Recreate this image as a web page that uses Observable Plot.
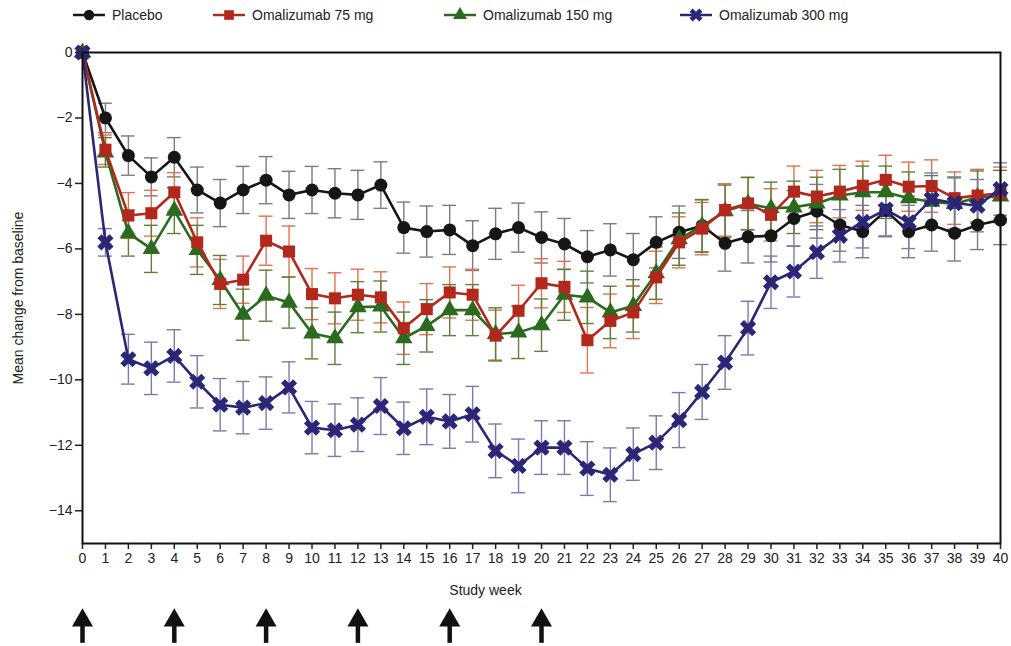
<!DOCTYPE html>
<html><head><meta charset="utf-8">
<script src="https://cdn.jsdelivr.net/npm/d3@7"></script>
<script src="https://cdn.jsdelivr.net/npm/@observablehq/plot@0.6"></script>
<style>
body{margin:0;background:#fff;font-family:"Liberation Sans",Arial,sans-serif;}
#legend{position:relative;height:30px;width:1011px;}
.item{position:absolute;top:0;height:30px;display:flex;align-items:center;font-size:14px;color:#222;white-space:nowrap;}
.item svg{margin-right:6px;}
</style></head><body>
<div id="legend"></div><div id="chart"></div>
<script>
const weeks = d3.range(0, 41);
const yTicks = [0, -2, -4, -6, -8, -10, -12, -14];
const xTicks = d3.range(0, 41);
const dosingWeeks = [0, 4, 8, 12, 16, 20];

const placebo = [0, -2.0, -3.15, -3.8, -3.2, -4.2, -4.6, -4.2, -3.9, -4.35, -4.2, -4.3, -4.35, -4.05, -5.35, -5.47, -5.42, -5.9, -5.54, -5.35, -5.65, -5.85, -6.24, -6.03, -6.33, -5.8, -5.49, -5.29, -5.83, -5.63, -5.6, -5.07, -4.85, -5.27, -5.47, -4.83, -5.47, -5.27, -5.52, -5.27, -5.12];
const placeboSE = [0, 0.45, 0.6, 0.58, 0.6, 0.7, 0.72, 0.72, 0.72, 0.72, 0.72, 0.75, 0.75, 0.71, 0.78, 0.78, 0.75, 0.76, 0.78, 0.75, 0.78, 0.78, 0.8, 0.8, 0.8, 0.78, 0.8, 0.8, 0.85, 0.8, 0.8, 0.85, 0.82, 0.8, 0.8, 0.8, 0.8, 0.8, 0.85, 0.75, 0.75];

const oma75 = [0, -2.97, -4.98, -4.91, -4.27, -5.8, -7.07, -6.94, -5.75, -6.08, -7.38, -7.51, -7.4, -7.48, -8.42, -7.84, -7.33, -7.4, -8.65, -7.89, -7.05, -7.16, -8.79, -8.2, -7.94, -6.87, -5.8, -5.38, -4.81, -4.61, -4.96, -4.25, -4.4, -4.25, -4.07, -3.89, -4.1, -4.08, -4.45, -4.37, -4.3];
const oma75SE = [0, 0.45, 0.7, 0.7, 0.6, 0.75, 0.75, 0.72, 0.75, 0.78, 0.78, 0.78, 0.78, 0.78, 0.8, 0.78, 0.78, 0.78, 0.78, 0.78, 0.75, 0.78, 1.0, 0.82, 0.8, 0.8, 0.78, 0.8, 0.8, 0.8, 0.8, 0.78, 0.8, 0.8, 0.75, 0.75, 0.75, 0.8, 0.8, 0.8, 0.8];

const oma150 = [0, -3.05, -5.52, -6.0, -4.83, -6.03, -6.95, -8.01, -7.43, -7.64, -8.58, -8.73, -7.78, -7.76, -8.73, -8.35, -7.87, -7.87, -8.6, -8.55, -8.33, -7.4, -7.48, -7.94, -7.74, -6.74, -5.7, -5.3, -4.85, -4.62, -4.76, -4.73, -4.61, -4.37, -4.27, -4.27, -4.45, -4.56, -4.63, -4.42, -4.4];
const oma150SE = [0, 0.45, 0.7, 0.72, 0.7, 0.75, 0.75, 0.78, 0.78, 0.78, 0.78, 0.8, 0.78, 0.78, 0.8, 0.8, 0.78, 0.78, 0.8, 0.8, 0.8, 0.78, 0.8, 0.8, 0.8, 0.8, 0.8, 0.8, 0.8, 0.8, 0.8, 0.8, 0.8, 0.8, 0.8, 0.8, 0.8, 0.8, 0.8, 0.8, 0.8];

const oma300 = [0, -5.8, -9.37, -9.65, -9.27, -10.06, -10.76, -10.85, -10.71, -10.23, -11.46, -11.54, -11.37, -10.8, -11.48, -11.13, -11.27, -11.05, -12.17, -12.63, -12.07, -12.07, -12.71, -12.9, -12.27, -11.92, -11.23, -10.37, -9.47, -8.42, -7.02, -6.69, -6.1, -5.6, -5.17, -4.8, -5.19, -4.48, -4.6, -4.68, -4.17];
const oma300SE = [0, 0.42, 0.76, 0.8, 0.8, 0.8, 0.8, 0.8, 0.8, 0.78, 0.8, 0.8, 0.82, 0.87, 0.8, 0.85, 0.82, 0.85, 0.82, 0.82, 0.82, 0.82, 0.82, 0.82, 0.8, 0.82, 0.84, 0.84, 0.82, 0.82, 0.8, 0.78, 0.8, 0.8, 0.8, 0.8, 0.8, 0.8, 0.8, 0.8, 0.8];

const seriesNames = ["Placebo", "Omalizumab 75 mg", "Omalizumab 150 mg", "Omalizumab 300 mg"];

const styles = {
  "Placebo": {line: "#161616", bar: "#7c7c7c", symbol: "circle", r: 6.5, rotate: 0},
  "Omalizumab 75 mg": {line: "#b3281c", bar: "#e2724e", symbol: "square", r: 6.8, rotate: 0},
  "Omalizumab 150 mg": {line: "#2b6a1f", bar: "#5f7f3c", symbol: "triangle", r: 6.5, rotate: 0},
  "Omalizumab 300 mg": {line: "#2c2677", bar: "#7d7aab", symbol: "cross", r: 7.2, rotate: 45}
};

const values = [placebo, oma75, oma150, oma300];
const ses = [placeboSE, oma75SE, oma150SE, oma300SE];
const tables = seriesNames.map((name, i) => weeks.map((w, j) => ({series: name, week: w, value: values[i][j], se: ses[i][j]})));

// Legend
const legend = document.getElementById("legend");
const legendX = [72, 212, 443, 679];
seriesNames.forEach((name, i) => {
  const st = styles[name];
  const div = document.createElement("div");
  div.className = "item";
  div.style.left = legendX[i] + "px";
  const sym = d3.symbol().type({circle: d3.symbolCircle, square: d3.symbolSquare, triangle: d3.symbolTriangle, cross: d3.symbolCross}[st.symbol]).size(Math.PI * (st.r * 0.8) ** 2)();
  div.innerHTML = `<svg width="34" height="16"><line x1="1" x2="33" y1="8" y2="8" stroke="${st.line}" stroke-width="2.5"/><path d="${sym}" transform="translate(17,8) rotate(${st.rotate})" fill="${st.line}"/></svg><span>${name}</span>`;
  legend.appendChild(div);
});

const marks = [];
// error bars
tables.forEach((t, i) => {
  const st = styles[seriesNames[i]];
  const d = t.filter(r => r.se > 0);
  marks.push(Plot.ruleX(d, {x: "week", y1: r => r.value - r.se, y2: r => r.value + r.se, stroke: st.bar, strokeWidth: 1.4}));
  marks.push(Plot.ruleY(d, {y: r => r.value + r.se, x1: r => r.week - 0.3, x2: r => r.week + 0.3, stroke: st.bar, strokeWidth: 1.4}));
  marks.push(Plot.ruleY(d, {y: r => r.value - r.se, x1: r => r.week - 0.3, x2: r => r.week + 0.3, stroke: st.bar, strokeWidth: 1.4}));
});
// lines and markers (drawing order)
[0, 2, 1, 3].forEach(i => {
  const st = styles[seriesNames[i]];
  marks.push(Plot.line(tables[i], {x: "week", y: "value", stroke: st.line, strokeWidth: 2.6}));
  marks.push(Plot.dot(tables[i], {x: "week", y: "value", symbol: st.symbol, r: st.r, fill: st.line, stroke: "none", rotate: st.rotate}));
});

// dosing arrows below the axis
marks.push(Plot.ruleX(dosingWeeks, {x: d => d, y1: -17.5, y2: -18.05, stroke: "#111", strokeWidth: 4.5}));
marks.push(Plot.dot(dosingWeeks, {x: d => d, y: -17.35, symbol: "triangle", r: 7.8, fill: "#111", stroke: "none"}));

marks.push(Plot.frame({stroke: "#111", strokeWidth: 2}));
marks.push(Plot.axisX({ticks: xTicks, tickSize: 6, tickPadding: 4, tickFormat: d => String(d), label: null, strokeWidth: 1.5}));
marks.push(Plot.axisY({ticks: yTicks, tickSize: 7, tickPadding: 3, label: null, strokeWidth: 1.5}));
marks.push(Plot.text(["Mean change from baseline"], {frameAnchor: "left", textAnchor: "middle", dx: -64, rotate: -90, fontSize: 14, fill: "#222"}));
marks.push(Plot.text(["Study week"], {frameAnchor: "bottom", textAnchor: "middle", dy: 51, dx: -56, fontSize: 14, fill: "#222"}));

const chart = Plot.plot({
  width: 1011,
  height: 616,
  marginTop: 22,
  marginBottom: 103,
  marginLeft: 82,
  marginRight: 11,
  x: {domain: [0, 40]},
  y: {domain: [-15, 0]},
  style: {fontFamily: "'Liberation Sans', Arial, sans-serif", fontSize: "14px", color: "#222", background: "#fff", overflow: "visible"},
  marks
});
document.getElementById("chart").appendChild(chart);
</script>
</body></html>
